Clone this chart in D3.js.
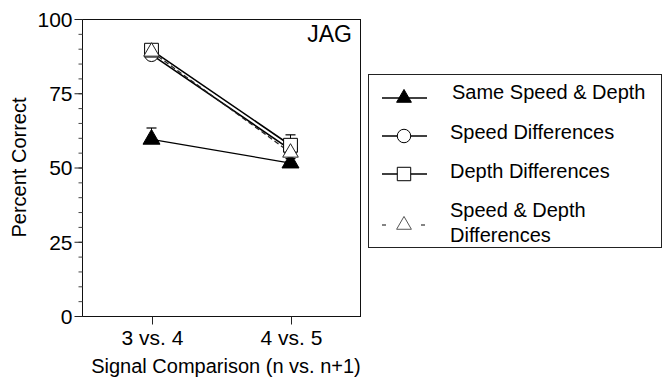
<!DOCTYPE html>
<html>
<head>
<meta charset="utf-8">
<script src="https://cdn.jsdelivr.net/npm/d3@7"></script>
<style>
  html, body { margin: 0; padding: 0; background: #fff; }
  svg { display: block; }
  text { font-family: "Liberation Sans", Arial, Helvetica, sans-serif; fill: #000; }
</style>
</head>
<body>
<svg id="chart" width="664" height="380"></svg>
<script>
// ---- data ----
const categories = ["3 vs. 4", "4 vs. 5"];
const seriesNames = ["Same Speed & Depth", "Speed Differences", "Depth Differences", "Speed & Depth Differences"];
const sameValues = [59.5, 51.5];
const speedValues = [88, 56];
const depthValues = [89.5, 57.5];
const bothValues = [89, 55];
const sameErrors = [3.8, 1.5];
const speedErrors = [1.5, 2];
const depthErrors = [1.7, 3.5];
const bothErrors = [1.5, 2];
const yTickLabels = [0, 25, 50, 75, 100];
const yMinorTicks = d3.range(0, 101, 5);
const panelLabel = "JAG";
const xTitle = "Signal Comparison (n vs. n+1)";
const yTitle = "Percent Correct";

// ---- layout ----
const svg = d3.select("#chart");
const plot = { left: 82, right: 360, top: 19, bottom: 316 };

const x = d3.scalePoint().domain(categories).range([plot.left, plot.right]).padding(0.5);
const y = d3.scaleLinear().domain([0, 100]).range([plot.bottom, plot.top]);

// frame
svg.append("rect")
  .attr("x", plot.left + 0.5).attr("y", plot.top + 0.5)
  .attr("width", plot.right - plot.left).attr("height", plot.bottom - plot.top)
  .attr("fill", "none").attr("stroke", "#111").attr("stroke-width", 1);

// y axis: minor ticks
const yMinor = d3.axisLeft(y).tickValues(yMinorTicks).tickSize(4).tickFormat("");
svg.append("g").attr("transform", `translate(${plot.left + 0.5},0)`).call(yMinor)
  .call(g => g.select(".domain").remove())
  .call(g => g.selectAll("line").attr("stroke", "#444"));

// y axis: major ticks
const yAxis = d3.axisLeft(y).tickValues(yTickLabels).tickSize(8).tickPadding(2).tickFormat(d3.format("d"));
svg.append("g").attr("transform", `translate(${plot.left + 0.5},0)`).call(yAxis)
  .call(g => g.select(".domain").remove())
  .call(g => g.selectAll("line").attr("stroke", "#222"))
  .call(g => g.selectAll("text").attr("font-size", 21).attr("dy", "0.35em")
        .style("font-family", "'Liberation Sans', Arial, sans-serif"));

// x axis
const xAxis = d3.axisBottom(x).tickSize(8).tickPadding(6);
svg.append("g").attr("transform", `translate(0.5,${plot.bottom + 0.5})`).call(xAxis)
  .call(g => g.select(".domain").remove())
  .call(g => g.selectAll("line").attr("stroke", "#222"))
  .call(g => g.selectAll("text").attr("font-size", 21).attr("dy", "0.71em")
        .style("font-family", "'Liberation Sans', Arial, sans-serif"));

// axis titles
svg.append("text").attr("x", (plot.left + plot.right) / 2 + 5).attr("y", 373)
  .attr("text-anchor", "middle").attr("font-size", 20).text(xTitle);
svg.append("text").attr("transform", `translate(26,${(plot.top + plot.bottom) / 2}) rotate(-90)`)
  .attr("text-anchor", "middle").attr("font-size", 20).text(yTitle);

// panel label
svg.append("text").attr("x", plot.right - 8).attr("y", 42)
  .attr("text-anchor", "end").attr("font-size", 23).text(panelLabel);

// ---- series ----
const series = [
  { name: seriesNames[0], values: sameValues, errors: sameErrors, symbol: "triangle", fill: "#000", stroke: "#000", dash: null, lineW: 1.3, scale: 1.25 },
  { name: seriesNames[1], values: speedValues, errors: speedErrors, symbol: "circle", fill: "#fff", stroke: "#000", dash: null, lineW: 1.6, scale: 1 },
  { name: seriesNames[2], values: depthValues, errors: depthErrors, symbol: "square", fill: "#fff", stroke: "#000", dash: null, lineW: 1.6, scale: 1 },
  { name: seriesNames[3], values: bothValues, errors: bothErrors, symbol: "triangle", fill: "#fff", stroke: "#222", dash: "5,3", lineW: 1.2, scale: 1.05 }
];

const symbolSize = { triangle: 100, circle: 150, square: 190 };
const symbolType = { triangle: d3.symbolTriangle, circle: d3.symbolCircle, square: d3.symbolSquare };
function symPath(kind, scale) {
  return d3.symbol().type(symbolType[kind]).size(symbolSize[kind] * (scale || 1))();
}

const line = d3.line().x((d, i) => x(categories[i])).y(d => y(d));

// lines
series.forEach(s => {
  svg.append("path").datum(s.values)
    .attr("d", line)
    .attr("fill", "none").attr("stroke", s.stroke)
    .attr("stroke-width", s.lineW)
    .attr("stroke-dasharray", s.dash);
});

// error bars (upper half, behind markers)
series.forEach(s => {
  const g = svg.append("g");
  s.values.forEach((v, i) => {
    const cx = x(categories[i]);
    const top = v + s.errors[i];
    g.append("line").attr("x1", cx).attr("x2", cx)
      .attr("y1", y(v)).attr("y2", y(top))
      .attr("stroke", "#000").attr("stroke-width", 1);
    g.append("line").attr("x1", cx - 5).attr("x2", cx + 5)
      .attr("y1", y(top)).attr("y2", y(top))
      .attr("stroke", "#000").attr("stroke-width", 1.2);
  });
});

// markers
series.forEach(s => {
  svg.append("g").selectAll("path").data(s.values).join("path")
    .attr("transform", (d, i) => `translate(${x(categories[i])},${y(d)})`)
    .attr("d", symPath(s.symbol, s.scale))
    .attr("fill", s.fill).attr("stroke", s.stroke).attr("stroke-width", 1);
});

// ---- legend ----
const legend = svg.append("g");
legend.append("rect").attr("x", 368.5).attr("y", 74.5).attr("width", 293).attr("height", 173)
  .attr("fill", "#fff").attr("stroke", "#222").attr("stroke-width", 1);

const legendRows = [
  { s: series[0], cy: 98, lines: [seriesNames[0]], ty: [99], tx: 452 },
  { s: series[1], cy: 136, lines: [seriesNames[1]], ty: [139], tx: 450 },
  { s: series[2], cy: 174, lines: [seriesNames[2]], ty: [178], tx: 450 },
  { s: series[3], cy: 225, lines: ["Speed & Depth", "Differences"], ty: [217, 242], tx: 450 }
];
legendRows.forEach(r => {
  const cx = 404;
  if (r.s.dash) {
    [[382, 386], [421, 425]].forEach(seg => {
      legend.append("line").attr("x1", seg[0]).attr("x2", seg[1]).attr("y1", r.cy).attr("y2", r.cy)
        .attr("stroke", "#333").attr("stroke-width", 1.2);
    });
  } else {
    legend.append("line").attr("x1", 382).attr("x2", 427).attr("y1", r.cy).attr("y2", r.cy)
      .attr("stroke", "#000").attr("stroke-width", 1.3);
  }
  legend.append("path").attr("transform", `translate(${cx},${r.cy})`)
    .attr("d", symPath(r.s.symbol, 0.95))
    .attr("fill", r.s.fill).attr("stroke", r.s.dash ? "#555" : "#000").attr("stroke-width", 1);
  r.lines.forEach((t, k) => {
    legend.append("text").attr("x", r.tx).attr("y", r.ty[k]).attr("font-size", 20).text(t);
  });
});
</script>
</body>
</html>
